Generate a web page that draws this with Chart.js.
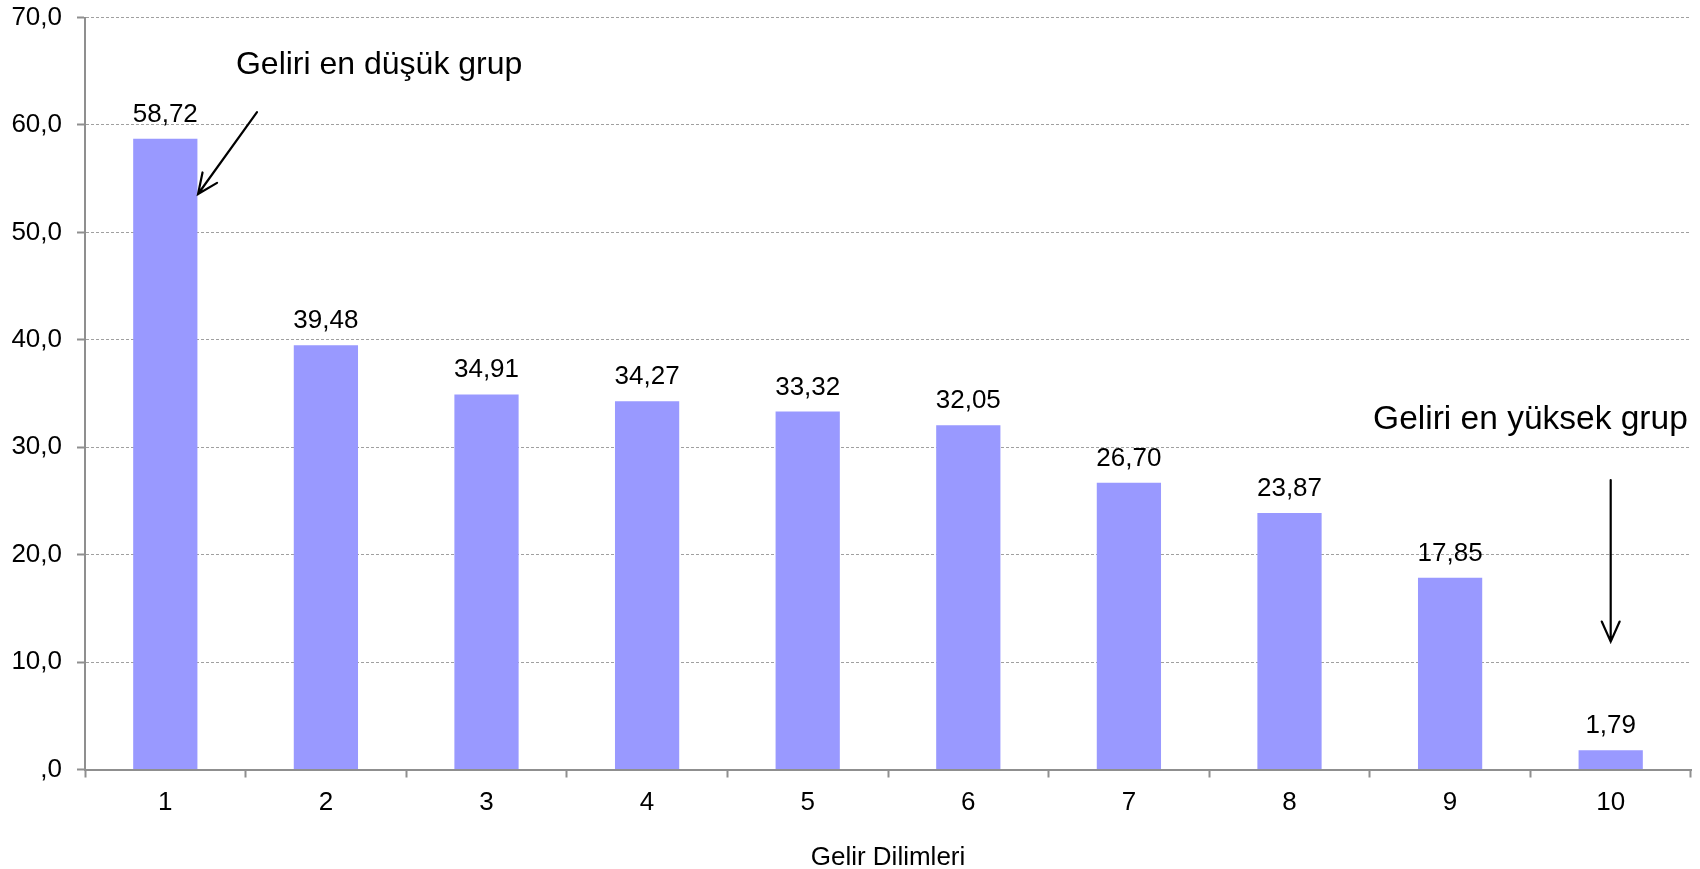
<!DOCTYPE html>
<html>
<head>
<meta charset="utf-8">
<script src="https://cdn.jsdelivr.net/npm/chart.js@4.4.1/dist/chart.umd.min.js"></script>
<style>
html,body{margin:0;padding:0;background:#ffffff;}
#wrap{width:1700px;height:869px;position:relative;}
canvas{display:block;}
</style>
</head>
<body>
<div id="wrap"><canvas id="c" width="1700" height="869" style="width:1700px;height:869px"></canvas></div>
<script>
// ---- data ----
const categories = ['1', '2', '3', '4', '5', '6', '7', '8', '9', '10'];
const values = [58.72, 39.48, 34.91, 34.27, 33.32, 32.05, 26.70, 23.87, 17.85, 1.79];
const yMin = 0;
const yMax = 70;
const yStep = 10;
const xAxisTitle = 'Gelir Dilimleri';
// annotation texts and arrows, anchored in data coordinates (category index, value)
const noteTexts = ['Geliri en düşük grup', 'Geliri en yüksek grup'];
const noteTextAnchors = [[0.44, 65.6, 'left'], [9.48, 32.6, 'right']];
const noteFontSizes = [32, 33.5];
const noteArrows = [[0.571, 61.2, 0.204, 53.57], [9.0, 26.95, 9.0, 11.9]];

const FONT = "'Liberation Sans', Arial, sans-serif";
const fmt2 = v => v.toFixed(2).replace('.', ',');
const fmtTick = v => v === 0 ? ',0' : v.toFixed(1).replace('.', ',');

const valueLabels = {
  id: 'valueLabels',
  afterDatasetsDraw(chart) {
    const ctx = chart.ctx;
    const meta = chart.getDatasetMeta(0);
    ctx.save();
    ctx.font = '26px ' + FONT;
    ctx.fillStyle = '#000';
    ctx.textAlign = 'center';
    ctx.textBaseline = 'alphabetic';
    meta.data.forEach((bar, i) => {
      ctx.fillText(fmt2(values[i]), bar.x, bar.y - 17);
    });
    ctx.restore();
  }
};

const notes = {
  id: 'notes',
  afterDraw(chart) {
    const ctx = chart.ctx;
    const xs = chart.scales.x, ys = chart.scales.y;
    ctx.save();
    ctx.fillStyle = '#000';
    ctx.textBaseline = 'middle';
    noteTexts.forEach((t, i) => {
      const a = noteTextAnchors[i];
      ctx.font = noteFontSizes[i] + 'px ' + FONT;
      ctx.textAlign = a[2];
      ctx.fillText(t, xs.getPixelForValue(a[0]), ys.getPixelForValue(a[1]));
    });
    ctx.strokeStyle = '#000';
    ctx.lineWidth = 2.2;
    ctx.lineCap = 'round';
    noteArrows.forEach(a => {
      const x1 = xs.getPixelForValue(a[0]), y1 = ys.getPixelForValue(a[1]);
      const x2 = xs.getPixelForValue(a[2]), y2 = ys.getPixelForValue(a[3]);
      const ang = Math.atan2(y2 - y1, x2 - x1);
      const L = 22, w = Math.PI / 7.5;
      ctx.beginPath();
      ctx.moveTo(x1, y1); ctx.lineTo(x2, y2);
      ctx.moveTo(x2 - L * Math.cos(ang - w), y2 - L * Math.sin(ang - w));
      ctx.lineTo(x2, y2);
      ctx.lineTo(x2 - L * Math.cos(ang + w), y2 - L * Math.sin(ang + w));
      ctx.stroke();
    });
    ctx.restore();
  }
};

new Chart(document.getElementById('c'), {
  type: 'bar',
  data: {
    labels: categories,
    datasets: [{
      data: values,
      backgroundColor: '#9999FF',
      borderWidth: 0,
      barPercentage: 0.4,
      categoryPercentage: 1.0
    }]
  },
  options: {
    responsive: false,
    animation: false,
    devicePixelRatio: 1,
    layout: { padding: { top: 17.5, right: 9, bottom: 0, left: 0 } },
    plugins: { legend: { display: false }, tooltip: { enabled: false } },
    scales: {
      x: {
        grid: { display: true, drawOnChartArea: false, drawTicks: true, tickLength: 8, offset: true,
                color: '#8f8f8f', tickColor: '#8f8f8f', tickWidth: 2 },
        border: { display: true, color: '#8f8f8f', width: 2 },
        ticks: { color: '#000', font: { family: FONT, size: 26 }, padding: 10, maxRotation: 0 },
        title: { display: true, text: xAxisTitle, color: '#000', font: { family: FONT, size: 26, lineHeight: 0.85 },
                 padding: { top: 0, bottom: 0 } },
        afterFit(s) { s.height = 99.5; }
      },
      y: {
        min: yMin, max: yMax,
        grid: { color: '#a0a0a0', lineWidth: 1, drawTicks: true, tickLength: 8,
                tickColor: '#8f8f8f', tickWidth: 2, tickBorderDash: [] },
        border: { display: true, color: '#8f8f8f', width: 2, dash: [3, 2] },
        ticks: { stepSize: yStep, color: '#000', font: { family: FONT, size: 26 }, padding: 15,
                 callback: v => fmtTick(v) },
        afterFit(s) { s.width = 85; s.paddingTop = 0; s.paddingBottom = 0; }
      }
    }
  },
  plugins: [valueLabels, notes]
});
</script>
</body>
</html>
